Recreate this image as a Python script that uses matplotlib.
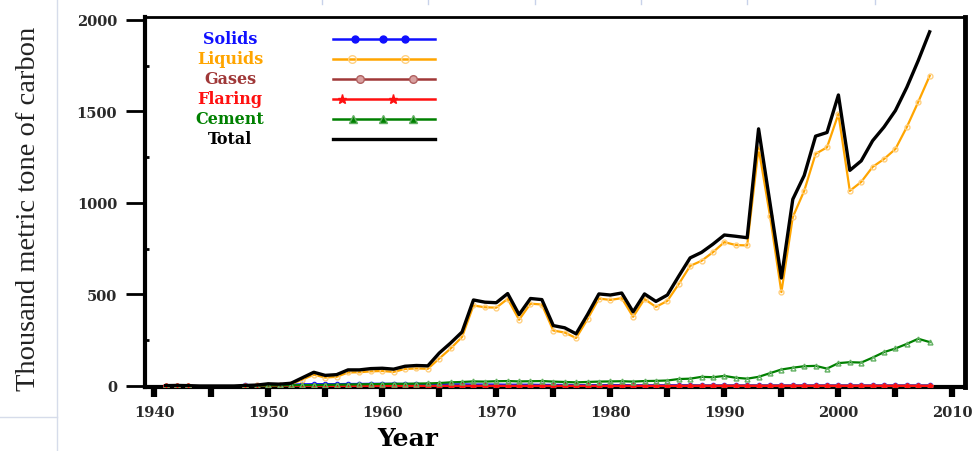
import numpy as np
import matplotlib
matplotlib.use("Agg")
import matplotlib.pyplot as plt
from matplotlib.lines import Line2D
from matplotlib.ticker import MultipleLocator

nan = np.nan

years = list(range(1941, 2009))

# 1941..2008 (thousand metric tonnes of carbon)
total = [2, 3, 2, 0, 0, 0, 0, 3, 5, 12,
         10, 15, 45, 75, 58, 62, 88, 88, 95, 97,
         92, 108, 112, 110, 180, 235, 295, 470, 458, 455,
         505, 390, 478, 472, 330, 318, 285, 390, 503, 497,
         508, 405, 503, 462, 497, 600, 700, 730, 775, 825,
         818, 810, 1405, 1000, 590, 1020, 1150, 1365, 1385, 1590,
         1178, 1230, 1340, 1415, 1505, 1632, 1778, 1935]

liquids = [1, 2, 1, nan, nan, nan, nan, 2, 3, 8,
           6, 10, 35, 62, 46, 50, 74, 75, 80, 82,
           77, 93, 96, 94, 150, 205, 268, 440, 430, 428,
           476, 362, 450, 445, 303, 292, 262, 365, 478, 470,
           480, 378, 475, 432, 465, 557, 656, 684, 731, 786,
           770, 768, 1300, 930, 513, 923, 1066, 1268, 1304, 1486,
           1066, 1115, 1197, 1240, 1295, 1415, 1552, 1694]

cement = [1, 1, 1, nan, nan, nan, nan, 1, 2, 3,
          3, 4, 5, 5, 6, 7, 8, 9, 10, 11,
          12, 12, 13, 14, 16, 20, 22, 25, 24, 26,
          27, 25, 26, 27, 24, 22, 20, 22, 24, 25,
          26, 24, 27, 28, 30, 38, 40, 50, 48, 55,
          45, 40, 50, 70, 90, 100, 108, 110, 95, 125,
          130, 128, 155, 185, 205, 230, 258, 240]

solids = [2, 2, 1, nan, nan, nan, nan, 3, 4, 6,
          7, 8, 9, 10, 10, 10, 11, 11, 12, 12,
          12, 11, 11, 10, 10, 9, 9, 8, 8, 8,
          7, 7, 7, 6, 6, 6, 5, 5, 5, 5,
          5, 4, 4, 4, 4, 4, 4, 3, 3, 3,
          3, 3, 3, 3, 3, 3, 3, 3, 3, 3,
          3, 3, 3, 3, 3, 3, 3, 3]

gases = [0, 0, 0, nan, nan, nan, nan, 0, 0, 0,
         0, 0, 0, 0, 0, 0, 0, 0, 0, 0,
         0, 0, 0, 0, 0, 1, 1, 1, 1, 1,
         1, 1, 1, 1, 1, 1, 1, 1, 1, 1,
         1, 1, 1, 1, 1, 1, 2, 2, 2, 2,
         2, 2, 2, 2, 2, 2, 2, 2, 2, 2,
         2, 2, 2, 2, 2, 2, 2, 2]

flaring = [0] * 3 + [nan] * 4 + [0] * 61

series = [
    ("Solids", solids, "#1010ff", dict(marker="o", ms=3, mfc="#1010ff", mec="#1010ff")),
    ("Liquids", liquids, "#ffa500", dict(marker="o", ms=3.5, mfc="none", mec="#ffd080")),
    ("Gases", gases, "#a03838", dict(marker="o", ms=3.5, mfc="#d8a0a0", mec="#b06060")),
    ("Flaring", flaring, "#ff1010", dict(marker="*", ms=4.5, mfc="#ff1010", mec="#ff1010")),
    ("Cement", cement, "#008000", dict(marker="^", ms=3.5, mfc="none", mec="#60b060")),
]

fig = plt.figure(figsize=(9.73, 4.52), dpi=100)
ax = fig.add_axes([145 / 973, 64 / 452, 820 / 973, 370 / 452])

# spreadsheet gridlines behind the pasted chart
fig.add_artist(Line2D([57 / 973, 57 / 973], [0, 1], color="#d6dcea", lw=1))
fig.add_artist(Line2D([0, 57 / 973], [34 / 452, 34 / 452], color="#d6dcea", lw=1))
for xp in [322, 428, 535, 641, 747, 875]:
    fig.add_artist(Line2D([xp / 973, xp / 973], [1, 1 - 5 / 452], color="#c8d2ea", lw=1))

for name, vals, col, mk in series:
    ax.plot(years, vals, color=col, lw=1.6, zorder=3, **mk)
ax.plot(years, total, color="black", lw=2.4, zorder=4)

ax.set_xlim(1939.2, 2011.1)
ax.set_ylim(-5.5, 2016)

for side, w in [("left", 3.0), ("bottom", 3.0), ("top", 2.0), ("right", 3.5)]:
    ax.spines[side].set_linewidth(w)

ax.xaxis.set_major_locator(MultipleLocator(10))
ax.xaxis.set_minor_locator(MultipleLocator(5))
ax.tick_params(axis="x", which="both", direction="out", length=7, width=4.5, pad=6)
ax.yaxis.set_major_locator(MultipleLocator(500))
ax.yaxis.set_minor_locator(MultipleLocator(250))
ax.tick_params(axis="y", which="major", direction="out", length=14, width=2, pad=6)
ax.tick_params(axis="y", which="minor", direction="in", length=3, width=2)

for lab in ax.get_xticklabels() + ax.get_yticklabels():
    lab.set_family("DejaVu Serif")
    lab.set_fontweight("bold")
    lab.set_fontsize(10.5)
    lab.set_color("#2a2a2a")

ax.set_xlabel("Year", family="DejaVu Serif", fontweight="bold", fontsize=18)
ax.xaxis.set_label_coords(0.32, -0.105)
ax.set_ylabel("Thousand metric tone of carbon", family="Liberation Serif", fontsize=20.5,
              color="#222222")
ax.yaxis.set_label_coords(-0.127, 0.485)

# hand-placed legend: coloured labels, sample line to the right
rows = [40, 60, 80, 100, 120, 140]
marks = [[355, 383, 405], [352, 405], [360, 413], [342, 393], [353, 383, 413], []]
x0, x1 = (333 - 145) / 820, (435 - 145) / 820
names = [s[0] for s in series] + ["Total"]
cols = [s[2] for s in series] + ["black"]
mks = [s[3] for s in series] + [None]
for name, col, mk, yp, xs in zip(names, cols, mks, rows, marks):
    yf = (388 - yp) / 370
    ax.text((230 - 145) / 820, yf, name, transform=ax.transAxes, color=col,
            family="DejaVu Serif", fontweight="bold", fontsize=11.5,
            ha="center", va="center")
    ax.plot([x0, x1], [yf, yf], transform=ax.transAxes, color=col,
            lw=2.4 if name == "Total" else 1.8, clip_on=False, zorder=5)
    if xs:
        m = dict(mk)
        m["ms"] = m["ms"] + 2
        if name in ("Cement", "Solids", "Flaring"):
            m["mfc"] = col
        ax.plot([(x - 145) / 820 for x in xs], [yf] * len(xs), transform=ax.transAxes,
                color=col, ls="none", clip_on=False, zorder=6, **m)

fig.savefig("out.png", dpi=100)
